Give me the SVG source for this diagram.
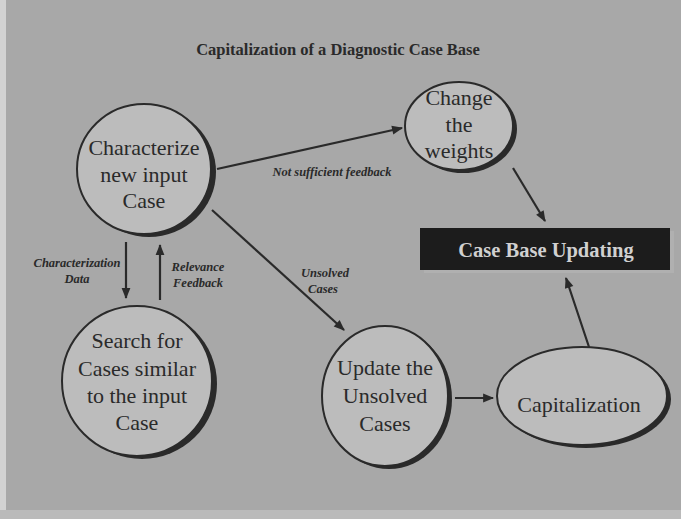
<svg xmlns="http://www.w3.org/2000/svg" width="681" height="519" viewBox="0 0 681 519">
<style>
.node{fill:#bcbcbc;stroke:#2a2a2a;stroke-width:2}
.shadow{fill:#2a2a2a}
.nt{font-family:"Liberation Serif",serif;font-size:22px;fill:#2a2a2a;text-anchor:middle}
.lbl{font-family:"Liberation Serif",serif;font-size:12.5px;font-style:italic;font-weight:bold;fill:#2a2a2a;text-anchor:middle}
.conn{stroke:#2a2a2a;stroke-width:2.2;fill:none;marker-end:url(#ah)}
</style>
<defs>
<marker id="ah" viewBox="0 0 10 10" refX="9" refY="5" markerWidth="5.5" markerHeight="5" orient="auto" markerUnits="strokeWidth">
<path d="M0,1 L10,5 L0,9 z" fill="#2a2a2a"/>
</marker>
</defs>
<rect width="681" height="519" fill="#a8a8a8"/>
<rect x="0" y="0" width="6" height="519" fill="#d2d2d2"/>
<rect x="0" y="510" width="681" height="9" fill="#bababa"/>
<text x="338" y="55" font-family="Liberation Serif,serif" font-size="16.5" font-weight="bold" fill="#2a2a2a" text-anchor="middle">Capitalization of a Diagnostic Case Base</text>
<g id="connectors">
<path class="conn" d="M217,169 L402,128"/>
<path class="conn" d="M513,168 L545,221"/>
<path class="conn" d="M589,347 L566,278"/>
<path class="conn" d="M455,398 L493,398"/>
<path class="conn" d="M212,210 L344,330"/>
<path class="conn" d="M126,242 L126,298"/>
<path class="conn" d="M160,300 L160,245"/>
<text class="lbl" x="332" y="176">Not sufficient feedback</text>
<text class="lbl" x="325" y="277">Unsolved</text>
<text class="lbl" x="323" y="293">Cases</text>
<text class="lbl" x="77" y="267">Characterization</text>
<text class="lbl" x="77" y="283">Data</text>
<text class="lbl" x="198" y="271">Relevance</text>
<text class="lbl" x="198" y="287">Feedback</text>
</g>
<g id="characterize">
<ellipse class="shadow" cx="149" cy="172" rx="67" ry="65"/>
<ellipse class="node" cx="144" cy="169" rx="67" ry="65"/>
<text class="nt" x="144" y="155">Characterize</text>
<text class="nt" x="144" y="182">new input</text>
<text class="nt" x="144" y="208">Case</text>
</g>
<g id="change-weights">
<ellipse class="shadow" cx="463" cy="129" rx="54" ry="44"/>
<ellipse class="node" cx="459" cy="126" rx="54" ry="44"/>
<text class="nt" x="459" y="105">Change</text>
<text class="nt" x="459" y="132">the</text>
<text class="nt" x="459" y="158">weights</text>
</g>
<g id="case-base-updating">
<rect x="424" y="231" width="250" height="42" fill="#b0b0b0"/>
<rect x="420" y="228" width="250" height="42" fill="#1c1c1c"/>
<text x="546" y="257" font-family="Liberation Serif,serif" font-size="20.5" font-weight="bold" fill="#d0d0d0" text-anchor="middle">Case Base Updating</text>
</g>
<g id="search">
<ellipse class="shadow" cx="142" cy="384" rx="75" ry="75"/>
<ellipse class="node" cx="137" cy="381" rx="75" ry="75"/>
<text class="nt" x="137" y="348">Search for</text>
<text class="nt" x="137" y="376">Cases similar</text>
<text class="nt" x="137" y="403">to the input</text>
<text class="nt" x="137" y="430">Case</text>
</g>
<g id="update-unsolved">
<ellipse class="shadow" cx="389" cy="399" rx="63" ry="70"/>
<ellipse class="node" cx="385" cy="396" rx="63" ry="70"/>
<text class="nt" x="385" y="375">Update the</text>
<text class="nt" x="385" y="403">Unsolved</text>
<text class="nt" x="385" y="431">Cases</text>
</g>
<g id="capitalization">
<ellipse class="shadow" cx="586" cy="399" rx="85" ry="49"/>
<ellipse class="node" cx="582" cy="396" rx="85" ry="49"/>
<text class="nt" x="579" y="412">Capitalization</text>
</g>
</svg>
